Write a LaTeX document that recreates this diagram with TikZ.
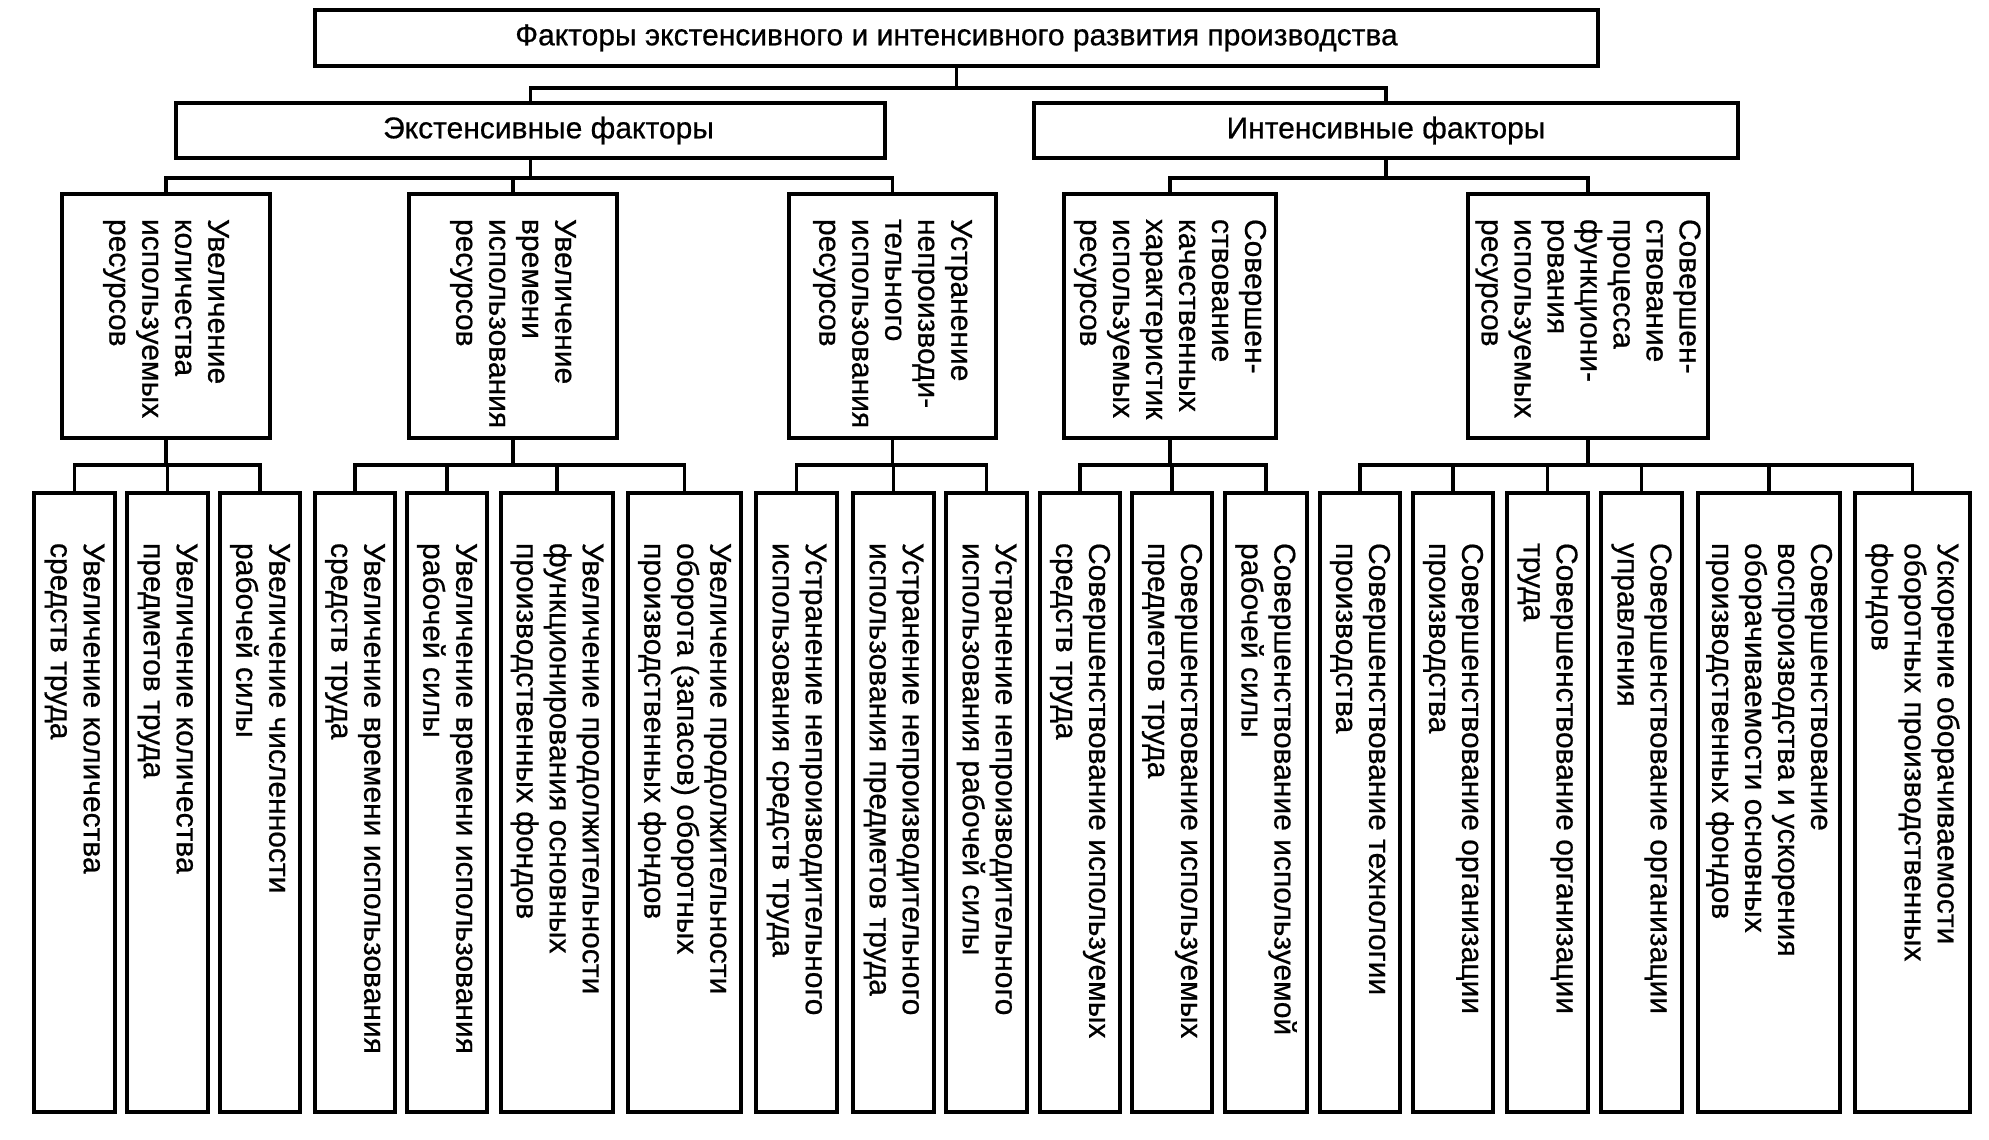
\documentclass[tikz,border=0pt]{standalone}
\usepackage{fontspec}
\setmainfont{Liberation Sans}[FakeBold=0.6]
\usetikzlibrary{calc}

\begin{document}
\begin{tikzpicture}[x=0.5pt,y=-0.5pt,line width=1.9pt,
    blok/.style={draw,rectangle,inner sep=0pt,font=\fontsize{15}{16.5}\selectfont},
    tekst/.style={rotate=-90,anchor=west,align=left,inner sep=0pt,font=\fontsize{15}{16.5}\selectfont}]
                \useasboundingbox (0,0) rectangle (1989,1139);

                % Заголовок
                \node[blok,minimum width=641.5pt,minimum height=28pt] (top) at (956.5,38) {Факторы экстенсивного и интенсивного развития производства};

                % Экстенсивные и интенсивные факторы
                \node[blok,minimum width=354.5pt,minimum height=27.5pt] (ext) at (530.5,130.5) {\hspace{18pt}Экстенсивные факторы};
                \node[blok,minimum width=352pt,minimum height=27.5pt] (int) at (1386,130.5) {Интенсивные факторы};

                % Второй уровень
                \node[blok,minimum width=104pt,minimum height=122pt] (a) at (166,316) {};
                \node[blok,minimum width=104pt,minimum height=122pt] (b) at (513,316) {};
                \node[blok,minimum width=103.5pt,minimum height=122pt] (c) at (892.5,316) {};
                \node[blok,minimum width=106pt,minimum height=122pt] (d) at (1170,316) {};
                \node[blok,minimum width=120pt,minimum height=122pt] (e) at (1588,316) {};

                \node[tekst] (at) at ($(a.north)+(0,25)$) {Увеличение\\количества\\используемых\\ресурсов};
                \node[tekst] (bt) at ($(b.north)+(0,25)$) {Увеличение\\времени\\использования\\ресурсов};
                \node[tekst] (ct) at ($(c.north)+(0,25)$) {Устранение\\непроизводи-\\тельного\\использования\\ресурсов};
                \node[tekst] (dt) at ($(d.north)+(0,25)$) {Совершен-\\ствование\\качественных\\характеристик\\используемых\\ресурсов};
                \node[tekst] (et) at ($(e.north)+(0,25)$) {Совершен-\\ствование\\процесса\\функциони-\\рования\\используемых\\ресурсов};

                % Третий уровень
                \node[blok,minimum width=40.5pt,minimum height=309.5pt] (a1) at (74.5,802.5) {};
                \node[blok,minimum width=40.5pt,minimum height=309.5pt] (a2) at (167.5,802.5) {};
                \node[blok,minimum width=40pt,minimum height=309.5pt] (a3) at (260,802.5) {};
                \node[blok,minimum width=40pt,minimum height=309.5pt] (b1) at (355,802.5) {};
                \node[blok,minimum width=40pt,minimum height=309.5pt] (b2) at (447,802.5) {};
                \node[blok,minimum width=56pt,minimum height=309.5pt] (b3) at (557,802.5) {};
                \node[blok,minimum width=56.5pt,minimum height=309.5pt] (b4) at (684.5,802.5) {};
                \node[blok,minimum width=40.5pt,minimum height=309.5pt] (c1) at (796.5,802.5) {};
                \node[blok,minimum width=40.5pt,minimum height=309.5pt] (c2) at (893.5,802.5) {};
                \node[blok,minimum width=40.5pt,minimum height=309.5pt] (c3) at (986.5,802.5) {};
                \node[blok,minimum width=40pt,minimum height=309.5pt] (d1) at (1080,802.5) {};
                \node[blok,minimum width=40pt,minimum height=309.5pt] (d2) at (1172,802.5) {};
                \node[blok,minimum width=41pt,minimum height=309.5pt] (d3) at (1266,802.5) {};
                \node[blok,minimum width=40pt,minimum height=309.5pt] (e1) at (1360,802.5) {};
                \node[blok,minimum width=40pt,minimum height=309.5pt] (e2) at (1453,802.5) {};
                \node[blok,minimum width=40.5pt,minimum height=309.5pt] (e3) at (1547.5,802.5) {};
                \node[blok,minimum width=40.5pt,minimum height=309.5pt] (e4) at (1641.5,802.5) {};
                \node[blok,minimum width=71pt,minimum height=309.5pt] (e5) at (1769,802.5) {};
                \node[blok,minimum width=57.5pt,minimum height=309.5pt] (e6) at (1912.5,802.5) {};

                \node[tekst] (a1t) at ($(a1.north)+(0,50)$) {Увеличение количества\\средств труда};
                \node[tekst] (a2t) at ($(a2.north)+(0,50)$) {Увеличение количества\\предметов труда};
                \node[tekst] (a3t) at ($(a3.north)+(0,50)$) {Увеличение численности\\рабочей силы};
                \node[tekst] (b1t) at ($(b1.north)+(0,50)$) {Увеличение времени использования\\средств труда};
                \node[tekst] (b2t) at ($(b2.north)+(0,50)$) {Увеличение времени использования\\рабочей силы};
                \node[tekst] (b3t) at ($(b3.north)+(0,50)$) {Увеличение продолжительности\\функционирования основных\\производственных фондов};
                \node[tekst] (b4t) at ($(b4.north)+(0,50)$) {Увеличение продолжительности\\оборота (запасов) оборотных\\производственных фондов};
                \node[tekst] (c1t) at ($(c1.north)+(0,50)$) {Устранение непроизводительного\\использования средств труда};
                \node[tekst] (c2t) at ($(c2.north)+(0,50)$) {Устранение непроизводительного\\использования предметов труда};
                \node[tekst] (c3t) at ($(c3.north)+(0,50)$) {Устранение непроизводительного\\использования рабочей силы};
                \node[tekst] (d1t) at ($(d1.north)+(0,50)$) {Совершенствование используемых\\средств труда};
                \node[tekst] (d2t) at ($(d2.north)+(0,50)$) {Совершенствование используемых\\предметов труда};
                \node[tekst] (d3t) at ($(d3.north)+(0,50)$) {Совершенствование используемой\\рабочей силы};
                \node[tekst] (e1t) at ($(e1.north)+(0,50)$) {Совершенствование технологии\\производства};
                \node[tekst] (e2t) at ($(e2.north)+(0,50)$) {Совершенствование организации\\производства};
                \node[tekst] (e3t) at ($(e3.north)+(0,50)$) {Совершенствование организации\\труда};
                \node[tekst] (e4t) at ($(e4.north)+(0,50)$) {Совершенствование организации\\управления};
                \node[tekst] (e5t) at ($(e5.north)+(0,50)$) {Совершенствование\\воспроизводства и ускорения\\оборачиваемости основных\\производственных фондов};
                \node[tekst] (e6t) at ($(e6.north)+(0,50)$) {Ускорение оборачиваемости\\оборотных производственных\\фондов};

                % Связи
                \draw (top.south) -- ++(0,20) -| (ext.north);
                \draw (top.south) -- ++(0,20) -| (int.north);

                \draw (ext.south) -- ++(0,18) -| (a.north);
                \draw (ext.south) -- ++(0,18) -| (b.north);
                \draw (ext.south) -- ++(0,18) -| (c.north);
                \draw (int.south) -- ++(0,18) -| (d.north);
                \draw (int.south) -- ++(0,18) -| (e.north);

                \draw (a.south) -- ++(0,25) -| (a1.north);
                \draw (a.south) -- ++(0,25) -| (a2.north);
                \draw (a.south) -- ++(0,25) -| (a3.north);
                \draw (b.south) -- ++(0,25) -| (b1.north);
                \draw (b.south) -- ++(0,25) -| (b2.north);
                \draw (b.south) -- ++(0,25) -| (b3.north);
                \draw (b.south) -- ++(0,25) -| (b4.north);
                \draw (c.south) -- ++(0,25) -| (c1.north);
                \draw (c.south) -- ++(0,25) -| (c2.north);
                \draw (c.south) -- ++(0,25) -| (c3.north);
                \draw (d.south) -- ++(0,25) -| (d1.north);
                \draw (d.south) -- ++(0,25) -| (d2.north);
                \draw (d.south) -- ++(0,25) -| (d3.north);
                \draw (e.south) -- ++(0,25) -| (e1.north);
                \draw (e.south) -- ++(0,25) -| (e2.north);
                \draw (e.south) -- ++(0,25) -| (e3.north);
                \draw (e.south) -- ++(0,25) -| (e4.north);
                \draw (e.south) -- ++(0,25) -| (e5.north);
                \draw (e.south) -- ++(0,25) -| (e6.north);
            \end{tikzpicture}
\end{document}
